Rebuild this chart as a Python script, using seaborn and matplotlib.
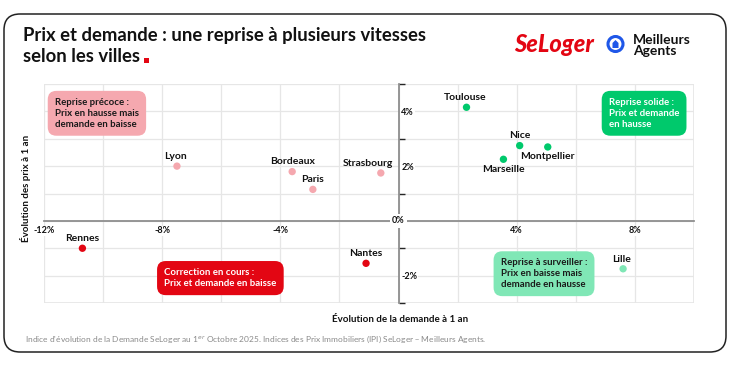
import matplotlib
matplotlib.use("Agg")
import matplotlib.pyplot as plt
import matplotlib.patches as mpatches
from matplotlib.ticker import MultipleLocator, FixedLocator
import pandas as pd
import seaborn as sns

# Données (évolution à 1 an, en %)
villes = ["Rennes", "Lyon", "Bordeaux", "Paris", "Strasbourg", "Nantes",
          "Toulouse", "Nice", "Montpellier", "Marseille", "Lille"]
demande = [-10.7, -7.5, -3.6, -2.9, -0.6, -1.1, 2.3, 4.1, 5.05, 3.55, 7.6]
prix = [-1.0, 2.0, 1.8, 1.15, 1.75, -1.55, 4.15, 2.75, 2.7, 2.25, -1.75]
quadrant = ["correction", "precoce", "precoce", "precoce", "precoce", "correction",
            "solide", "solide", "solide", "solide", "surveiller"]

x_ticks = [-12, -8, -4, 4, 8]
y_ticks = [-2, 2, 4]

ROUGE = "#e30613"
ROSE = "#f5a8af"
VERT = "#00c96c"
VERT_CLAIR = "#80e7b6"
BLEU = "#1f57e8"
GRILLE = "#e6e6e6"
palette = {"correction": ROUGE, "precoce": ROSE, "solide": VERT, "surveiller": VERT_CLAIR}

# décalages des étiquettes (points)
decalages = {
    "Rennes": (0, 7), "Lyon": (-1, 7), "Bordeaux": (0, 7), "Paris": (0, 7),
    "Strasbourg": (-9, 7), "Nantes": (0, 7), "Toulouse": (-1, 7), "Nice": (0, 7),
    "Montpellier": (0, -7), "Marseille": (0, -7), "Lille": (-1, 7),
}

df = pd.DataFrame({"ville": villes, "demande": demande, "prix": prix, "quadrant": quadrant})

sns.set_theme(style="white")
plt.rcParams["font.family"] = ["Lato", "DejaVu Sans"]

W, H = 731, 365
fig = plt.figure(figsize=(W / 100, H / 100), dpi=100)
ax = fig.add_axes([44 / W, 1 - 303 / H, 650 / W, 219 / H])

# cadre arrondi extérieur
cadre = mpatches.FancyBboxPatch((4 / W, 13 / H), 722 / W, 338 / H,
                                boxstyle="round,pad=0,rounding_size=0.022",
                                transform=fig.transFigure, fill=False,
                                edgecolor="#222222", linewidth=1.1, mutation_aspect=2.0)
fig.patches.append(cadre)

sns.scatterplot(data=df, x="demande", y="prix", hue="quadrant", palette=palette,
                s=28, edgecolor="none", legend=False, ax=ax, zorder=4)

for v, x, y in zip(villes, demande, prix):
    dx, dy = decalages[v]
    ax.annotate(v, (x, y), xytext=(dx, dy), textcoords="offset points",
                ha="center", va="center", fontsize=7.5, fontweight="bold",
                color="#111111", zorder=5)

ax.set_xlim(-12, 10)
ax.set_ylim(-3, 5)
ax.xaxis.set_minor_locator(MultipleLocator(2))
ax.yaxis.set_minor_locator(MultipleLocator(1))
ax.xaxis.set_major_locator(FixedLocator(x_ticks))
ax.yaxis.set_major_locator(FixedLocator(y_ticks))
ax.set_xticklabels([f"{t}%" for t in x_ticks])
ax.set_yticklabels([f"{t}%" for t in y_ticks])
ax.grid(True, which="both", color=GRILLE, linewidth=0.9)
ax.set_axisbelow(True)

# bords du quadrillage sous les étiquettes, axes zéro en gris foncé
ax.spines["top"].set_visible(False)
ax.spines["left"].set_visible(False)
for v in (-12, 10):
    ax.axvline(v, color=GRILLE, linewidth=1.2, zorder=0.1)
for h in (-3, 5):
    ax.axhline(h, color=GRILLE, linewidth=1.2, zorder=0.1)
ax.spines["bottom"].set_position(("data", 0))
ax.spines["bottom"].set_color("#8a8a8a")
ax.spines["right"].set_position(("data", 0))
ax.spines["right"].set_color("#8a8a8a")
ax.yaxis.tick_right()
ax.tick_params(axis="both", length=0, labelsize=6.5, colors="#111111")
ax.tick_params(axis="x", pad=4)
ax.tick_params(axis="y", pad=2)
for lab in ax.get_xticklabels() + ax.get_yticklabels():
    lab.set_fontweight("bold")
    lab.set_bbox(dict(boxstyle="square,pad=0.1", facecolor="white", edgecolor="none"))

ax.text(0, 0, "0%", ha="center", va="center", fontsize=6.5, fontweight="bold",
        color="#111111", zorder=6,
        bbox=dict(boxstyle="square,pad=0.25", facecolor="white", edgecolor="none"))

ax.set_xlabel("")
ax.set_ylabel("")
fig.text(400 / W, 1 - 319 / H, "Évolution de la demande à 1 an", ha="center",
         va="center", fontsize=7, fontweight="bold", color="#111111")
fig.text(26 / W, 1 - 188 / H, "Évolution des prix à 1 an", ha="center",
         va="center", rotation=90, fontsize=7, fontweight="bold", color="#111111")

# encadrés des quadrants
encadres = [
    (-11.63, 3.93, "Reprise précoce :\nPrix en hausse mais\ndemande en baisse", ROSE, "#1a1a1a"),
    (7.12, 3.93, "Reprise solide :\nPrix et demande\nen hausse", VERT, "white"),
    (-7.93, -2.09, "Correction en cours :\nPrix et demande en baisse", ROUGE, "white"),
    (3.46, -1.93, "Reprise à surveiller :\nPrix en baisse mais\ndemande en hausse", VERT_CLAIR, "#1a1a1a"),
]
for x, y, txt, fc, tc in encadres:
    ax.text(x, y, txt, ha="left", va="center", fontsize=6.9, fontweight="bold",
            color=tc, linespacing=1.25, zorder=6,
            bbox=dict(boxstyle="round,pad=0.75,rounding_size=0.9", facecolor=fc, edgecolor="none"))

# titre (deux lignes, carré rouge après la seconde)
fig.text(23 / W, 1 - 36 / H, "Prix et demande : une reprise à plusieurs vitesses",
         ha="left", va="center", fontsize=13.3, fontweight="bold", color="#111111")
ligne2 = fig.text(23 / W, 1 - 56 / H, "selon les villes",
                  ha="left", va="center", fontsize=13.3, fontweight="bold", color="#111111")
fig.canvas.draw()
bb = ligne2.get_window_extent()
fig.patches.append(mpatches.Rectangle(((bb.x1 + 4) / W, 1 - 63 / H), 5 / W, 5 / H,
                                      transform=fig.transFigure, facecolor=ROUGE,
                                      edgecolor="none"))

# logos
fig.text(554 / W, 1 - 44 / H, "SeLoger", ha="center", va="center", fontsize=17,
         fontweight="black", fontstyle="italic", color=ROUGE)
fig.patches.append(mpatches.Ellipse((615.5 / W, 1 - 44 / H), 15 / W, 15 / H,
                                    transform=fig.transFigure, fill=False,
                                    edgecolor=BLEU, linewidth=2.2))
maison = [(612.5, 48), (618.5, 48), (618.5, 43), (615.5, 40), (612.5, 43)]
fig.patches.append(mpatches.Polygon([(x / W, 1 - y / H) for x, y in maison], closed=True,
                                    transform=fig.transFigure, facecolor=BLEU,
                                    edgecolor="none"))
fig.text(633 / W, 1 - 45.5 / H, "Meilleurs\nAgents", ha="left", va="center", fontsize=10,
         fontweight="bold", color="#111111", linespacing=0.9)

# note de bas de page
fig.text(25 / W, 1 - 339 / H,
         "Indice d'évolution de la Demande SeLoger au 1$^{er}$ Octobre 2025. Indices des Prix "
         "Immobiliers (IPI) SeLoger – Meilleurs Agents.",
         ha="left", va="center", fontsize=6.0, color="#8a8a8a")

fig.savefig("out.png", dpi=100)
